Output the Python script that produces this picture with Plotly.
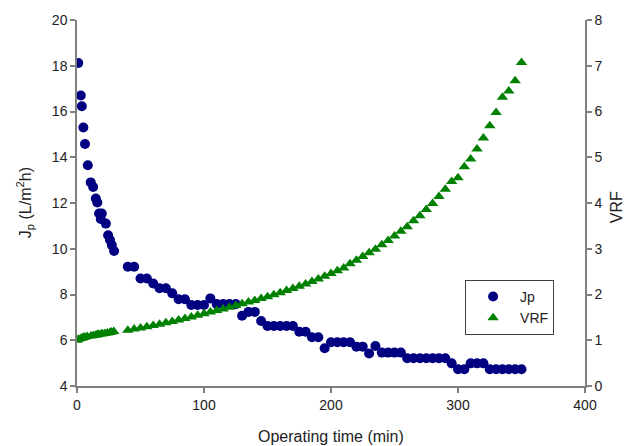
import plotly.graph_objects as go

# ---- data ----
t_jp = [1, 3, 3.8, 5, 6.3, 8.5, 10.8, 12.7, 14.8, 16, 17.4, 18.7, 19.5, 22.7, 24.5, 26, 27.4, 29.2,
        40, 45, 50, 55, 60, 65, 70, 75, 80, 85, 90, 95, 100, 105, 110, 115, 120, 125,
        130, 135, 140, 145, 150, 155, 160, 165, 170, 175, 180, 185, 190, 195, 200, 205, 210,
        215, 220, 225, 230, 235, 240, 245, 250, 255, 260, 265, 270, 275, 280, 285, 290,
        295, 300, 305, 310, 315, 320, 325, 330, 335, 340, 345, 350]
jp = [18.12, 16.7, 16.23, 15.3, 14.58, 13.65, 12.9, 12.7, 12.2, 12.02, 11.54, 11.3, 11.54, 11.1, 10.59, 10.38, 10.16, 9.9,
      9.21, 9.21, 8.70, 8.70, 8.48, 8.27, 8.27, 8.05, 7.79, 7.79, 7.54, 7.54, 7.54, 7.83, 7.58, 7.58, 7.58, 7.58,
      7.07, 7.24, 7.24, 6.84, 6.62, 6.62, 6.62, 6.62, 6.62, 6.37, 6.37, 6.13, 6.13, 5.65, 5.91, 5.91, 5.91,
      5.91, 5.72, 5.72, 5.42, 5.75, 5.46, 5.46, 5.46, 5.46, 5.21, 5.21, 5.21, 5.21, 5.21, 5.21, 5.21,
      4.99, 4.73, 4.73, 4.99, 4.99, 4.99, 4.73, 4.73, 4.73, 4.73, 4.73, 4.73]

t_vrf = [0, 1, 3, 4, 5, 6, 8, 11, 13, 15, 16, 17, 19, 20, 22, 24, 26, 27, 29,
         40, 45, 50, 55, 60, 65, 70, 75, 80, 85, 90, 95, 100, 105, 110, 115, 120, 125,
         130, 135, 140, 145, 150, 155, 160, 165, 170, 175, 180, 185, 190, 195, 200, 205, 210,
         215, 220, 225, 230, 235, 240, 245, 250, 255, 260, 265, 270, 275, 280, 285, 290,
         295, 300, 305, 310, 315, 320, 325, 330, 335, 340, 345, 350]
vrf = [1.0, 1.02, 1.04, 1.05, 1.06, 1.07, 1.08, 1.095, 1.105, 1.115, 1.12, 1.13, 1.135, 1.14, 1.15, 1.16, 1.17, 1.18, 1.19,
       1.22, 1.245, 1.27, 1.295, 1.32, 1.35, 1.38, 1.41, 1.44, 1.475, 1.51, 1.545, 1.58, 1.615, 1.65, 1.685, 1.72, 1.76,
       1.80, 1.835, 1.87, 1.91, 1.95, 1.995, 2.04, 2.085, 2.13, 2.18, 2.23, 2.285, 2.34, 2.40, 2.46, 2.52, 2.58,
       2.67, 2.75, 2.83, 2.91, 2.99, 3.09, 3.18, 3.28, 3.38, 3.48, 3.61, 3.72, 3.86, 3.99, 4.14, 4.30,
       4.47, 4.55, 4.79, 4.96, 5.18, 5.42, 5.69, 5.98, 6.31, 6.45, 6.67, 7.07]

x_ticks = [0, 100, 200, 300, 400]
y1_ticks = [4, 6, 8, 10, 12, 14, 16, 18, 20]
y2_ticks = [0, 1, 2, 3, 4, 5, 6, 7, 8]

x_title = "Operating time (min)"
y1_title = "J<sub>p</sub> (L/m<sup>2</sup>h)"
y2_title = "VRF"

FONT = "Arial"

fig = go.Figure()
fig.add_trace(go.Scatter(x=t_jp, y=jp, mode="markers", name="Jp",
                         marker=dict(symbol="circle", size=10, color="#000080")))
fig.add_trace(go.Scatter(x=t_vrf, y=vrf, mode="markers", name="VRF", yaxis="y2",
                         marker=dict(symbol="triangle-up", size=10, color="#008000")))

axis_common = dict(showgrid=False, zeroline=False, showline=True, linecolor="#808080", linewidth=1.5,
                   ticks="outside", tickcolor="#808080", ticklen=5, tickwidth=1.5, automargin=False,
                   tickfont=dict(family=FONT, size=14, color="#222"))

fig.update_layout(
    width=634, height=446,
    margin=dict(l=77, r=49, t=20, b=60),
    paper_bgcolor="white", plot_bgcolor="white",
    font=dict(family=FONT, size=14, color="#222"),
    xaxis=dict(range=[0, 400], tickvals=x_ticks, **axis_common),
    yaxis=dict(range=[4, 20], tickvals=y1_ticks, **axis_common),
    yaxis2=dict(range=[0, 8], tickvals=y2_ticks, overlaying="y", side="right", **axis_common),
    legend=dict(x=0.764, y=0.29, xanchor="left", yanchor="top",
                bordercolor="#404040", borderwidth=1, bgcolor="white",
                font=dict(family=FONT, size=14, color="#222"),
                itemwidth=44, tracegroupgap=0),
    showlegend=True,
    annotations=[
        dict(text=x_title, xref="paper", yref="paper", x=0.5, y=-0.137,
             xanchor="center", yanchor="middle", showarrow=False,
             font=dict(family=FONT, size=16, color="#222")),
        dict(text=y1_title, xref="paper", yref="paper", x=-0.102, y=0.5,
             xanchor="center", yanchor="middle", showarrow=False, textangle=-90,
             font=dict(family=FONT, size=16, color="#222")),
        dict(text=y2_title, xref="paper", yref="paper", x=1.062, y=0.49,
             xanchor="center", yanchor="middle", showarrow=False, textangle=-90,
             font=dict(family=FONT, size=16, color="#222")),
    ],
)

fig.write_html("out.html")
